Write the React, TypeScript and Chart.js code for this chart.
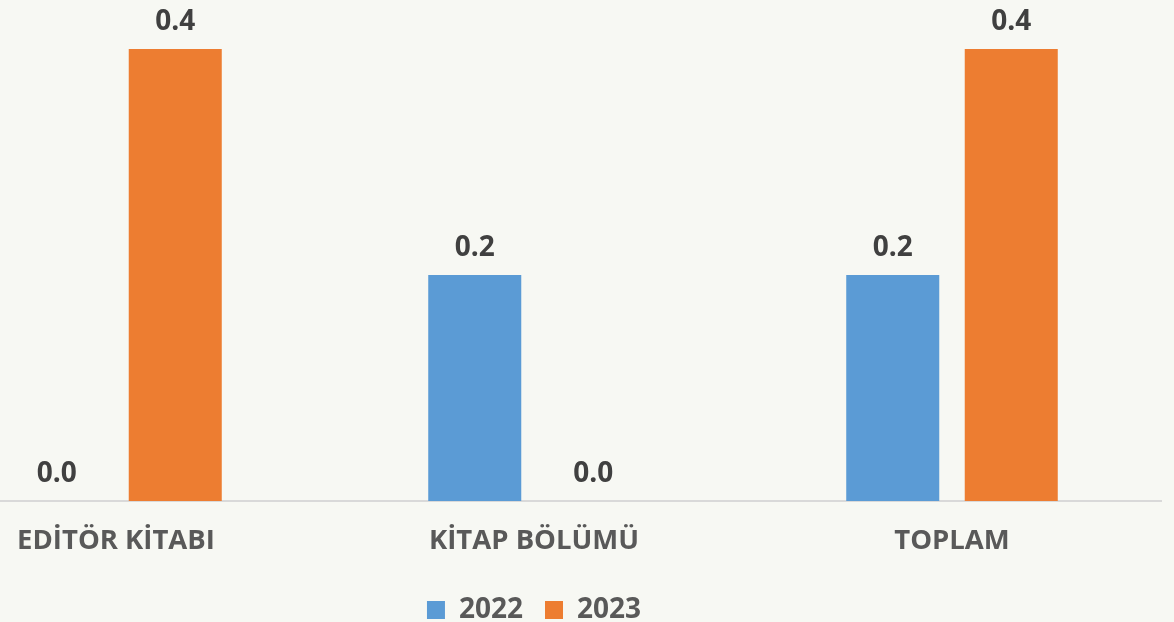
import React, { useEffect, useRef } from "react";
import { Chart, registerables } from "chart.js";

Chart.register(...registerables);

const categories = ["EDİTÖR KİTABI", "KİTAP BÖLÜMÜ", "TOPLAM"];
const series2022 = [0.0, 0.2, 0.2];
const series2023 = [0.4, 0.0, 0.4];
const seriesLabels = ["2022", "2023"];

const FONT = "'Open Sans', 'DejaVu Sans', sans-serif";

const valueLabels = {
  id: "valueLabels",
  afterDatasetsDraw(chart: any) {
    const ctx = chart.ctx;
    ctx.save();
    ctx.font = `bold 28px ${FONT}`;
    ctx.fillStyle = "#404040";
    ctx.textAlign = "center";
    ctx.textBaseline = "alphabetic";
    chart.data.datasets.forEach((ds: any, i: number) => {
      const meta = chart.getDatasetMeta(i);
      meta.data.forEach((el: any, j: number) => {
        const v = ds.data[j];
        ctx.fillText(Number(v).toFixed(1), el.x, el.y - 19);
      });
    });
    ctx.restore();
  },
};

export default function App() {
  const ref = useRef<HTMLCanvasElement>(null);
  useEffect(() => {
    if (!ref.current) return;
    const chart = new Chart(ref.current, {
      type: "bar",
      data: {
        labels: categories,
        datasets: [
          {
            label: seriesLabels[0],
            data: series2022,
            backgroundColor: "#5B9BD5",
            categoryPercentage: 0.567,
            barPercentage: 0.785,
          },
          {
            label: seriesLabels[1],
            data: series2023,
            backgroundColor: "#ED7D31",
            categoryPercentage: 0.567,
            barPercentage: 0.785,
          },
        ],
      },
      options: {
        responsive: false,
        animation: false,
        layout: { padding: { top: 49, right: 13, left: 0, bottom: -12 } },
        scales: {
          x: {
            grid: { display: false },
            border: { display: true, color: "#D9D9D9", width: 2 },
            ticks: {
              color: "#595959",
              font: { family: FONT, size: 27.5, weight: "bold" },
              padding: 16,
            },
          },
          y: {
            display: false,
            min: 0,
            max: 0.4,
          },
        },
        plugins: {
          legend: {
            position: "bottom",
            labels: {
              color: "#595959",
              font: { family: FONT, size: 28, weight: "bold" },
              boxWidth: 18,
              boxHeight: 18,
              padding: 22,
            },
          },
          tooltip: { enabled: false },
        },
      },
      plugins: [valueLabels],
    });
    return () => chart.destroy();
  }, []);
  return (
    <div
      style={{
        position: "fixed",
        top: 0,
        left: -93,
        width: 1267,
        height: 622,
        background: "#F7F8F3",
      }}
    >
      <canvas ref={ref} width={1267} height={622} />
    </div>
  );
}
